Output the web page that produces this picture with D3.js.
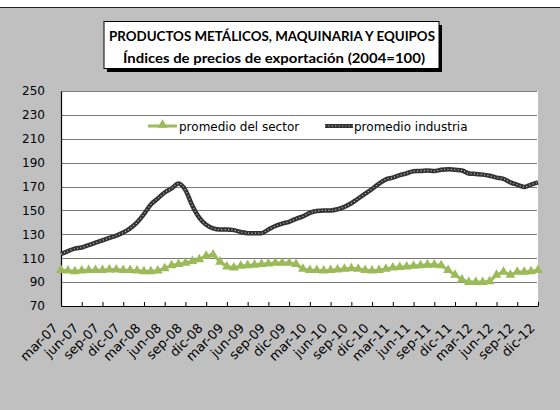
<!DOCTYPE html>
<html>
<head>
<meta charset="utf-8">
<script src="https://d3js.org/d3.v7.min.js"></script>
<style>
  body { margin: 0; background: #c0c0c0; }
  svg { display: block; font-family: "DejaVu Sans", sans-serif; }
</style>
</head>
<body>
<svg width="560" height="410"></svg>
<script>
// monthly series, mar-07 .. dic-12
var industria = [113.5, 116, 118, 119, 121, 123, 125, 127, 129, 131.5, 135, 140,
  147, 155, 160, 165, 168.5, 172.5, 167, 154, 144, 138, 135, 134,
  134, 133.5, 132, 131, 131, 131, 134, 137, 139, 140.5, 143, 145,
  148, 149.5, 150, 150, 151, 153, 156, 160, 164, 168, 172.5, 176,
  177.5, 179.5, 181, 182.9, 183, 183.5, 183, 184, 184.5, 184, 183.5, 181,
  180.5, 180, 179, 177.5, 176.5, 173.5, 171.5, 169.7, 171.7, 173.5];

var sector = [100, 99.5, 99, 99.5, 100, 100, 100, 100.5, 100.5, 100, 100, 99.5,
  99, 99, 99.5, 101.5, 104, 105, 106, 107.5, 109, 112, 113, 107,
  103, 102, 103.5, 104, 104.5, 105, 105.5, 106, 106, 106, 105, 101,
  100, 100, 99.5, 100, 100.5, 101, 101.5, 101, 100, 99.5, 100, 101,
  102, 102.5, 103, 103.5, 104, 104.5, 104.5, 104, 100, 96, 92, 90,
  90, 90, 90.5, 96, 98.5, 96, 98.5, 98.5, 99, 100];

var tickLabels = ["mar-07", "jun-07", "sep-07", "dic-07", "mar-08", "jun-08", "sep-08", "dic-08",
  "mar-09", "jun-09", "sep-09", "dic-09", "mar-10", "jun-10", "sep-10", "dic-10",
  "mar-11", "jun-11", "sep-11", "dic-11", "mar-12", "jun-12", "sep-12", "dic-12"];

var yTicks = [70, 90, 110, 130, 150, 170, 190, 210, 230, 250];

var seriesNames = ["promedio del sector", "promedio industria"];

// month categories
var meses = ["ene", "feb", "mar", "abr", "may", "jun", "jul", "ago", "sep", "oct", "nov", "dic"];
var months = [];
for (var i = 0; i < industria.length; i++) {
  var k = i + 2;
  months.push(meses[k % 12] + "-" + String(7 + Math.floor(k / 12)).padStart(2, "0"));
}

var svg = d3.select("svg");
var pLeft = 61, pRight = 538, pTop = 91, pBottom = 306;

var x = d3.scalePoint().domain(months).range([pLeft, pRight]);
var y = d3.scaleLinear().domain([70, 250]).range([pBottom, pTop]);

// top white strip
svg.append("rect").attr("x", 0).attr("y", 0).attr("width", 560).attr("height", 7).attr("fill", "#fff");
svg.append("line").attr("x1", 0).attr("x2", 560).attr("y1", 7.5).attr("y2", 7.5)
  .attr("stroke", "#222").attr("stroke-width", 1);

// title box
svg.append("rect").attr("x", 107).attr("y", 25).attr("width", 335).attr("height", 47).attr("fill", "#000");
svg.append("rect").attr("x", 104).attr("y", 21.5).attr("width", 335).attr("height", 47)
  .attr("fill", "#fff").attr("stroke", "#000").attr("stroke-width", 1);
svg.append("text").attr("x", 272).attr("y", 41).attr("text-anchor", "middle")
  .attr("font-family", "Lato, 'Open Sans', sans-serif").attr("font-weight", "bold").attr("font-size", 14)
  .attr("textLength", 326).attr("lengthAdjust", "spacingAndGlyphs")
  .text("PRODUCTOS METÁLICOS, MAQUINARIA Y EQUIPOS");
svg.append("text").attr("x", 274).attr("y", 63).attr("text-anchor", "middle")
  .attr("font-family", "Lato, 'Open Sans', sans-serif").attr("font-weight", "bold").attr("font-size", 14)
  .attr("textLength", 302).attr("lengthAdjust", "spacingAndGlyphs")
  .text("Índices de precios de exportación (2004=100)");

// plot area
svg.append("rect").attr("x", pLeft).attr("y", pTop).attr("width", pRight - pLeft).attr("height", pBottom - pTop)
  .attr("fill", "#fff");

// gridlines
svg.append("g").selectAll("line").data(yTicks.slice(1)).enter().append("line")
  .attr("x1", pLeft).attr("x2", pRight - 1)
  .attr("y1", function(d) { return Math.round(y(d)) + 0.5; })
  .attr("y2", function(d) { return Math.round(y(d)) + 0.5; })
  .attr("stroke", "#7a7a7a").attr("stroke-width", 1);

// y axis
var gy = svg.append("g").attr("transform", "translate(" + pLeft + ",0)")
  .call(d3.axisLeft(y).tickValues(yTicks).tickSize(0).tickPadding(16));
gy.select(".domain").attr("stroke", "#000").attr("stroke-width", 1.2);
gy.selectAll("text").attr("font-size", 12).attr("font-family", "DejaVu Sans").attr("fill", "#000");

// x axis
var gx = svg.append("g").attr("transform", "translate(0," + pBottom + ")")
  .call(d3.axisBottom(x).tickValues(tickLabels).tickSizeInner(-4).tickSizeOuter(0));
gx.select(".domain").attr("stroke", "#000").attr("stroke-width", 1.2);
gx.selectAll(".tick line").attr("stroke", "#000");
gx.selectAll("text")
  .attr("y", null).attr("dy", null).attr("x", null)
  .attr("text-anchor", "end")
  .attr("transform", "translate(-3,23) rotate(-45)")
  .attr("font-size", 13).attr("font-family", "DejaVu Sans").attr("fill", "#000");

// industria line
var line = d3.line()
  .x(function(d, i) { return x(months[i]); })
  .y(function(d) { return y(d); })
  .curve(d3.curveMonotoneX);

svg.append("path").datum(industria).attr("d", line)
  .attr("fill", "none").attr("stroke", "#333").attr("stroke-width", 4.5);
svg.append("path").datum(industria).attr("d", line)
  .attr("fill", "none").attr("stroke", "#c8c8c8").attr("stroke-width", 1.2)
  .attr("stroke-dasharray", "1,2.4");

// sector line with triangles
var lineS = d3.line()
  .x(function(d, i) { return x(months[i]); })
  .y(function(d) { return y(d); });
svg.append("path").datum(sector).attr("d", lineS)
  .attr("fill", "none").attr("stroke", "#9bbb59").attr("stroke-width", 3);
var tri = d3.symbol().type(d3.symbolTriangle).size(42);
svg.append("g").selectAll("path").data(sector).enter().append("path")
  .attr("d", tri)
  .attr("transform", function(d, i) { return "translate(" + x(months[i]) + "," + y(d) + ")"; })
  .attr("fill", "#9bbb59");

// legend
var lg = svg.append("g").attr("font-size", 12).attr("font-family", "DejaVu Sans");
lg.append("line").attr("x1", 148).attr("x2", 177).attr("y1", 126).attr("y2", 126)
  .attr("stroke", "#9bbb59").attr("stroke-width", 3);
lg.append("path").attr("d", tri).attr("transform", "translate(162.5,125)").attr("fill", "#9bbb59");
lg.append("text").attr("x", 179).attr("y", 131).text(seriesNames[0]);
lg.append("line").attr("x1", 325).attr("x2", 353).attr("y1", 126).attr("y2", 126)
  .attr("stroke", "#333").attr("stroke-width", 4);
lg.append("line").attr("x1", 325).attr("x2", 353).attr("y1", 126).attr("y2", 126)
  .attr("stroke", "#c8c8c8").attr("stroke-width", 1.1).attr("stroke-dasharray", "1,2.4");
lg.append("text").attr("x", 354).attr("y", 131).text(seriesNames[1]);
</script>
</body>
</html>
